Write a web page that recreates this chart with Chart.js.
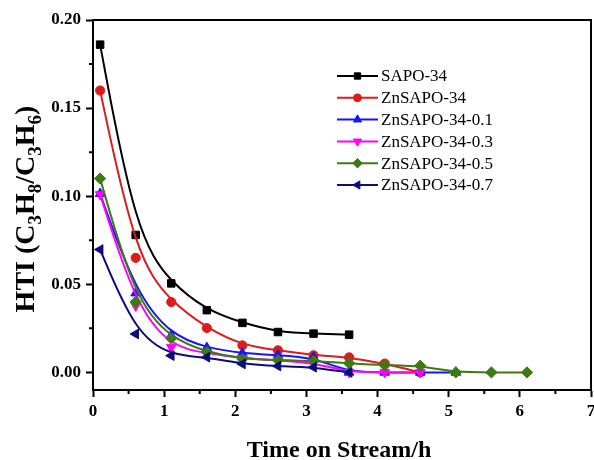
<!DOCTYPE html>
<html>
<head>
<meta charset="utf-8">
<script src="https://cdn.jsdelivr.net/npm/chart.js@4.4.1/dist/chart.umd.min.js"></script>
<style>
  html, body { margin: 0; padding: 0; background: #fff; overflow: hidden; }
  canvas { display: block; }
</style>
</head>
<body>
<canvas id="graficoHTI" width="594" height="460"></canvas>
<script>
// Tempo de reação (h) e HTI de cada amostra
const tempos = [0.1, 0.6, 1.1, 1.6, 2.1, 2.6, 3.1, 3.6, 4.1, 4.6, 5.1, 5.6, 6.1];
const sapo34 = [0.186, 0.078, 0.0505, 0.0353, 0.0281, 0.0229, 0.0220, 0.0214];
const znSapo34 = [0.160, 0.065, 0.0399, 0.0252, 0.0153, 0.0125, 0.0097, 0.0085, 0.0050, 0];
const znSapo34_01 = [0.1014, 0.045, 0.0210, 0.0140, 0.0108, 0.0098, 0.0085, 0, 0, 0, 0];
const znSapo34_03 = [0.1010, 0.0378, 0.0143, 0.0110, 0.0080, 0.0068, 0.0055, 0, 0, 0];
const znSapo34_05 = [0.110, 0.040, 0.0193, 0.0115, 0.0076, 0.0070, 0.0064, 0.0052, 0.0040, 0.0038, 0, 0, 0];
const znSapo34_07 = [0.0697, 0.0218, 0.0095, 0.0086, 0.0048, 0.0036, 0.0029, 0];

const nomes = ['SAPO-34', 'ZnSAPO-34', 'ZnSAPO-34-0.1', 'ZnSAPO-34-0.3', 'ZnSAPO-34-0.5', 'ZnSAPO-34-0.7'];
const xTicks = [0, 1, 2, 3, 4, 5, 6, 7];
const yTicks = [0, 0.05, 0.10, 0.15, 0.20];
const tituloX = 'Time on Stream/h';
// partes do título do eixo y: [texto, subscrito?]
const tituloY = [['HTI (C', false], ['3', true], ['H', false], ['8', true], ['/C', false], ['3', true], ['H', false], ['6', true], [')', false]];

const serie = [sapo34, znSapo34, znSapo34_01, znSapo34_03, znSapo34_05, znSapo34_07];
const estilos = [
    { cor: '#000000', ponto: 'rect', raio: 5.3, rot: 0 },
    { cor: '#dc1c1c', ponto: 'circle', raio: 4.6, rot: 0 },
    { cor: '#1414ff', ponto: 'triangle', raio: 5.6, rot: 0 },
    { cor: '#ff00ff', ponto: 'triangle', raio: 5.6, rot: 180 },
    { cor: '#3c7a12', ponto: 'rectRot', raio: 5.6, rot: 0 },
    { cor: '#0c0c7a', ponto: 'triangle', raio: 5.6, rot: -90 }
];

const fonteSerif = "'Liberation Serif', 'Times New Roman', serif";

const datasets = serie.map((valores, i) => ({
    label: nomes[i],
    data: valores.map((v, j) => ({ x: tempos[j], y: v })),
    showLine: false,
    pointStyle: estilos[i].ponto,
    pointRotation: estilos[i].rot,
    pointRadius: estilos[i].raio,
    pointHoverRadius: estilos[i].raio,
    pointBackgroundColor: estilos[i].cor,
    pointBorderColor: estilos[i].cor,
    pointBorderWidth: 1,
    borderColor: estilos[i].cor,
    order: -i
}));

// curva B-spline (pontas presas) passando pelas posições calculadas pela escala
function tracarBSpline(ctx, pts) {
    const n = pts.length;
    const p = [pts[0], pts[0], ...pts, pts[n - 1], pts[n - 1]];
    ctx.moveTo(pts[0].x, pts[0].y);
    for (let i = 0; i + 3 < p.length; i++) {
        const b = p[i + 1], c = p[i + 2], d = p[i + 3];
        ctx.bezierCurveTo(
            (2 * b.x + c.x) / 3, (2 * b.y + c.y) / 3,
            (b.x + 2 * c.x) / 3, (b.y + 2 * c.y) / 3,
            (b.x + 4 * c.x + d.x) / 6, (b.y + 4 * c.y + d.y) / 6
        );
    }
}

const pluginCurvas = {
    id: 'curvas',
    beforeDatasetDraw(chart, args) {
        const pts = args.meta.data.map(el => ({ x: el.x, y: el.y }));
        if (pts.length < 2) return;
        const ctx = chart.ctx;
        ctx.save();
        ctx.beginPath();
        tracarBSpline(ctx, pts);
        ctx.strokeStyle = estilos[args.index].cor;
        ctx.lineWidth = 2;
        ctx.lineJoin = 'round';
        ctx.stroke();
        ctx.restore();
    }
};

const pluginMoldura = {
    id: 'moldura',
    afterDraw(chart) {
        const ctx = chart.ctx;
        const a = chart.chartArea;
        const sx = chart.scales.x, sy = chart.scales.y;
        ctx.save();
        ctx.strokeStyle = '#000';
        ctx.lineWidth = 2;
        ctx.beginPath();
        ctx.moveTo(a.left, a.top);
        ctx.lineTo(a.right, a.top);
        ctx.lineTo(a.right, a.bottom);
        // marcas menores
        for (let i = 0; i < xTicks.length - 1; i++) {
            const px = sx.getPixelForValue((xTicks[i] + xTicks[i + 1]) / 2);
            ctx.moveTo(px, a.bottom);
            ctx.lineTo(px, a.bottom + 4);
        }
        for (let i = 0; i < yTicks.length - 1; i++) {
            const py = sy.getPixelForValue((yTicks[i] + yTicks[i + 1]) / 2);
            ctx.moveTo(a.left, py);
            ctx.lineTo(a.left - 4, py);
        }
        ctx.stroke();

        // título do eixo x
        ctx.fillStyle = '#000';
        ctx.font = 'bold 24px ' + fonteSerif;
        ctx.textAlign = 'center';
        ctx.textBaseline = 'alphabetic';
        ctx.fillText(tituloX, (a.left + a.right) / 2 - 3, 457);

        // título do eixo y com subscritos
        ctx.translate(34, 209);
        ctx.rotate(-Math.PI / 2);
        const fonteN = 'bold 28px ' + fonteSerif;
        const fonteS = 'bold 19px ' + fonteSerif;
        let total = 0;
        tituloY.forEach(([t, sub]) => { ctx.font = sub ? fonteS : fonteN; total += ctx.measureText(t).width; });
        let x = -total / 2;
        ctx.textAlign = 'left';
        tituloY.forEach(([t, sub]) => {
            ctx.font = sub ? fonteS : fonteN;
            ctx.fillText(t, x, sub ? 7 : 0);
            x += ctx.measureText(t).width;
        });
        ctx.restore();

        // legenda
        ctx.save();
        const y0 = 76, passo = 21.8;
        nomes.forEach((nome, i) => {
            const y = y0 + i * passo;
            ctx.strokeStyle = estilos[i].cor;
            ctx.lineWidth = 2;
            ctx.beginPath();
            ctx.moveTo(337, y);
            ctx.lineTo(378, y);
            ctx.stroke();
            ctx.fillStyle = estilos[i].cor;
            ctx.lineWidth = 1;
            Chart.helpers.drawPoint(ctx, {
                pointStyle: estilos[i].ponto,
                rotation: estilos[i].rot,
                radius: estilos[i].raio * 0.85,
                borderWidth: 1
            }, 357.5, y);
            ctx.fillStyle = '#000';
            ctx.font = '17px ' + fonteSerif;
            ctx.textAlign = 'left';
            ctx.textBaseline = 'middle';
            ctx.fillText(nome, 381, y + 1);
        });
        ctx.restore();
    }
};

const fonteTicks = { family: fonteSerif, size: 17, weight: 'bold' };
const semPadding = () => ({ left: 0, top: 0, right: 0, bottom: 0 });

new Chart(document.getElementById('graficoHTI'), {
    type: 'scatter',
    data: { datasets },
    options: {
        responsive: false,
        animation: false,
        devicePixelRatio: 1,
        layout: { autoPadding: false, padding: { top: 20, right: 3, left: 0, bottom: 0 } },
        plugins: { legend: { display: false }, tooltip: { enabled: false } },
        scales: {
            x: {
                type: 'linear',
                min: 0,
                max: 7,
                afterBuildTicks: s => { s.ticks = xTicks.map(v => ({ value: v })); },
                // o "7" fica encostado na borda, sem reservar espaço
                afterFit: s => { s.height = 70; s.paddingLeft = 0; s.paddingRight = 0; s.getPadding = semPadding; },
                grid: { drawOnChartArea: false, tickLength: 7, tickWidth: 2, tickColor: '#000' },
                border: { color: '#000', width: 2 },
                ticks: { color: '#000', font: fonteTicks, padding: 4, maxRotation: 0, callback: v => String(v) }
            },
            y: {
                type: 'linear',
                min: -0.01,
                max: 0.20,
                afterBuildTicks: s => { s.ticks = yTicks.map(v => ({ value: v })); },
                afterFit: s => { s.width = 93; },
                grid: { drawOnChartArea: false, tickLength: 7, tickWidth: 2, tickColor: '#000' },
                border: { color: '#000', width: 2 },
                ticks: { color: '#000', font: fonteTicks, padding: 5, callback: v => v.toFixed(2) }
            }
        }
    },
    plugins: [pluginCurvas, pluginMoldura]
});
</script>
</body>
</html>
